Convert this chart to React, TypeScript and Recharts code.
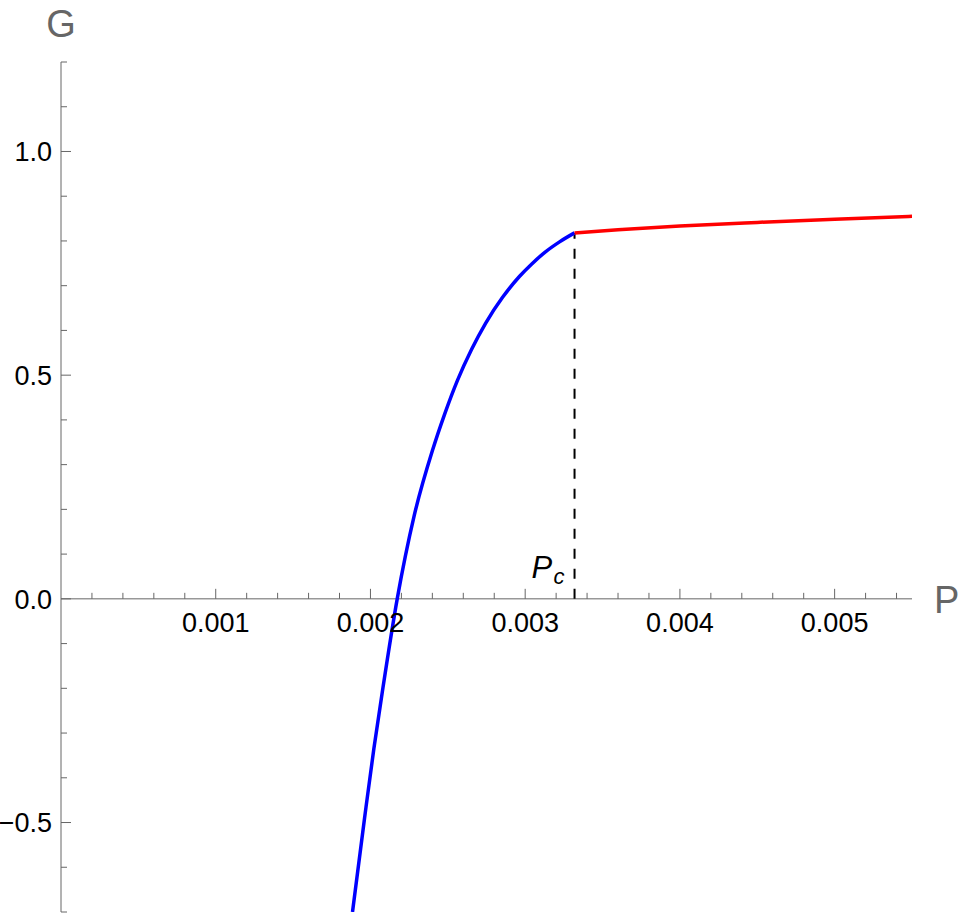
import React from 'react';
import {
  ComposedChart, Line, XAxis, YAxis, ReferenceLine, ReferenceDot,
} from 'recharts';

// blue branch (below P_c)
const bluePressure = [
  0.001884, 0.001962, 0.002022, 0.002078, 0.002173, 0.002282, 0.002401, 0.002479,
  0.002563, 0.002654, 0.002744, 0.002854, 0.002964, 0.003041, 0.003125, 0.003222, 0.003319,
];
const blueGibbs = [
  -0.7, -0.49, -0.335, -0.205, 0, 0.185, 0.332, 0.4125,
  0.489, 0.558, 0.616, 0.674, 0.721, 0.748, 0.774, 0.798, 0.818,
];

// red branch (above P_c)
const redPressure = [0.003319, 0.0036, 0.004, 0.0045, 0.005, 0.0055];
const redGibbs = [0.818, 0.825, 0.8335, 0.8415, 0.8485, 0.855];

const criticalP = 0.003319;
const criticalG = 0.818;

const xMajorTicks = [0.001, 0.002, 0.003, 0.004, 0.005];
const xMajorLabels = ['0.001', '0.002', '0.003', '0.004', '0.005'];
const xMinorTicks = [
  0.0002, 0.0004, 0.0006, 0.0008, 0.0012, 0.0014, 0.0016, 0.0018,
  0.0022, 0.0024, 0.0026, 0.0028, 0.0032, 0.0034, 0.0036, 0.0038,
  0.0042, 0.0044, 0.0046, 0.0048, 0.0052, 0.0054,
];

const yTicks = [-0.7, -0.6, -0.5, -0.4, -0.3, -0.2, -0.1, 0, 0.1, 0.2, 0.3, 0.4, 0.5, 0.6, 0.7, 0.8, 0.9, 1.0, 1.1, 1.2];
const yMajorTicks = [-0.5, 0, 0.5, 1.0];
const yMajorLabels = ['\u22120.5', '0.0', '0.5', '1.0'];

const blueData = bluePressure.map((p, i) => ({ p, g: blueGibbs[i] }));
const redData = redPressure.map((p, i) => ({ p, g: redGibbs[i] }));

const FONT = '"Liberation Sans", Arial, sans-serif';
const AXIS = '#666666';

const YTick = (props: any) => {
  const { x, y, payload } = props;
  const idx = yMajorTicks.findIndex((v) => Math.abs(v - payload.value) < 1e-9);
  const major = idx >= 0;
  return (
    <g>
      <line x1={x} y1={y} x2={x + (major ? 10 : 6)} y2={y} stroke={AXIS} strokeWidth={1} />
      {major && (
        <text x={x - 9} y={y} dy="0.36em" textAnchor="end" fontSize={27} fontFamily={FONT} fill="#000">
          {yMajorLabels[idx]}
        </text>
      )}
    </g>
  );
};

const tickShape = (len: number) => (props: any) => (
  <line x1={props.cx} y1={props.cy} x2={props.cx} y2={props.cy - len} stroke={AXIS} strokeWidth={1} />
);

const xLabelShape = (label: string) => (props: any) => (
  <g>
    <line x1={props.cx} y1={props.cy} x2={props.cx} y2={props.cy - 10} stroke={AXIS} strokeWidth={1} />
    <text x={props.cx} y={props.cy + 33} textAnchor="middle" fontSize={27} fontFamily={FONT} fill="#000">
      {label}
    </text>
  </g>
);

export default function App(): React.ReactElement {
  return (
    <div style={{ position: 'absolute', left: 0, top: 0 }}>
      <ComposedChart
        width={960}
        height={914}
        margin={{ top: 62, right: 48, bottom: 2, left: 0 }}
      >
        <XAxis dataKey="p" type="number" domain={[0, 0.0055]} allowDataOverflow hide />
        <YAxis
          type="number"
          domain={[-0.7, 1.2]}
          allowDataOverflow
          ticks={yTicks}
          interval={0}
          width={61}
          tickSize={0}
          tickMargin={0}
          tickLine={false}
          axisLine={{ stroke: AXIS, strokeWidth: 1 }}
          tick={<YTick />}
        />

        <ReferenceLine y={0} stroke={AXIS} strokeWidth={1} />

        {xMinorTicks.map((p) => (
          <ReferenceDot key={'m' + p} x={p} y={0} r={0} ifOverflow="visible" shape={tickShape(6)} />
        ))}
        {xMajorTicks.map((p, i) => (
          <ReferenceDot key={'M' + p} x={p} y={0} r={0} ifOverflow="visible" shape={xLabelShape(xMajorLabels[i])} />
        ))}

        <ReferenceLine
          segment={[{ x: criticalP, y: 0 }, { x: criticalP, y: criticalG }]}
          stroke="#000"
          strokeWidth={2}
          strokeDasharray="10 10"
        />
        <ReferenceDot
          x={criticalP}
          y={0}
          r={0}
          ifOverflow="visible"
          shape={(props: any) => (
            <g fontFamily={FONT} fontStyle="italic" fill="#000">
              <text x={props.cx - 43} y={props.cy - 21} fontSize={31}>P</text>
              <text x={props.cx - 21} y={props.cy - 15} fontSize={22}>c</text>
            </g>
          )}
        />

        <Line
          data={blueData}
          dataKey="g"
          type="monotone"
          stroke="#0000ff"
          strokeWidth={3.5}
          dot={false}
          activeDot={false}
          isAnimationActive={false}
        />
        <Line
          data={redData}
          dataKey="g"
          type="monotone"
          stroke="#ff0000"
          strokeWidth={3.5}
          dot={false}
          activeDot={false}
          isAnimationActive={false}
        />

        <ReferenceDot
          x={0}
          y={1.2}
          r={0}
          ifOverflow="visible"
          shape={(props: any) => (
            <text x={props.cx} y={props.cy - 25} textAnchor="middle" fontSize={38} fontFamily={FONT} fill={AXIS}>G</text>
          )}
        />
        <ReferenceDot
          x={0.0055}
          y={0}
          r={0}
          ifOverflow="visible"
          shape={(props: any) => (
            <text x={props.cx + 22} y={props.cy + 14} fontSize={38} fontFamily={FONT} fill={AXIS}>P</text>
          )}
        />
      </ComposedChart>
    </div>
  );
}
